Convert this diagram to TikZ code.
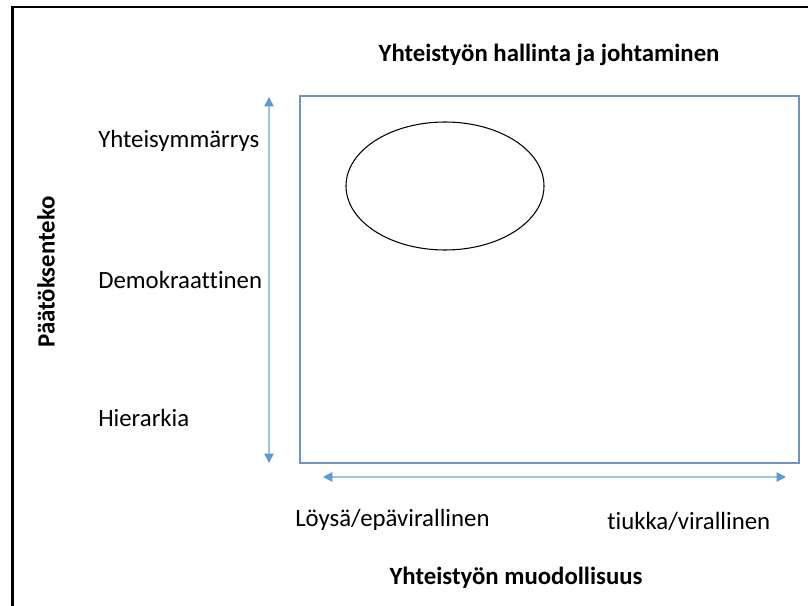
\documentclass[tikz,border=0pt]{standalone}
\usepackage{fontspec}
\setmainfont[Ligatures=NoCommon]{Carlito}
\usepackage{xcolor}
\usetikzlibrary{arrows.meta,shapes.geometric}

\definecolor{boxblue}{HTML}{6F93C2}
\definecolor{axisblue}{HTML}{9DC3E6}
\definecolor{tipblue}{HTML}{5B9BD5}

\begin{document}
\begin{tikzpicture}[x=0.75pt,y=-0.75pt]
    \tikzstyle{axistext} = [font=\fontsize{18.6}{22}\selectfont,anchor=west,inner sep=0pt]
    \tikzstyle{headtext} = [font=\fontsize{18.6}{22}\selectfont\bfseries,inner sep=0pt]
    \tikzstyle{axis} = [draw=axisblue,line width=1.2pt,{Triangle[color=tipblue,length=7pt,width=7pt]}-{Triangle[color=tipblue,length=7pt,width=7pt]}]
    \useasboundingbox (0,0) rectangle (808,606);

    % frame
    \draw[line width=1.6pt] (12.5,606) -- (12.5,7) -- (808,7);

    % field and the ellipse in it
    \node[draw=boxblue,line width=1.4pt,minimum width=374.25pt,minimum height=275.25pt,inner sep=0pt] (field) at (549.5,279.5) {};
    \node[draw,ellipse,line width=0.8pt,minimum width=148.5pt,minimum height=96pt,inner sep=0pt] (consensus) at (445,186) {};

    % axes
    \coordinate (vtop) at (269,97);
    \coordinate (vbot) at (269,463);
    \coordinate (hleft) at (323,477);
    \coordinate (hright) at (786,477);
    \draw[axis] (vtop) -- (vbot);
    \draw[axis] (hleft) -- (hright);

    \node[headtext] (title) at (549,55) {Yhteistyön hallinta ja johtaminen};
    \node[headtext,rotate=90] (ylabel) at (46,272) {Päätöksenteko};
    \node[headtext] (xlabel) at (516,578) {Yhteistyön muodollisuus};

    \node[axistext] (consen) at (98,141) {Yhteisymmärrys};
    \node[axistext] (democr) at (98,280) {Demokraattinen};
    \node[axistext] (hierar) at (98,418) {Hierarkia};
    \node[axistext] (loose) at (295,520) {Löysä/epävirallinen};
    \node[axistext] (strict) at (607,521) {tiukka/virallinen};
\end{tikzpicture}
\end{document}
